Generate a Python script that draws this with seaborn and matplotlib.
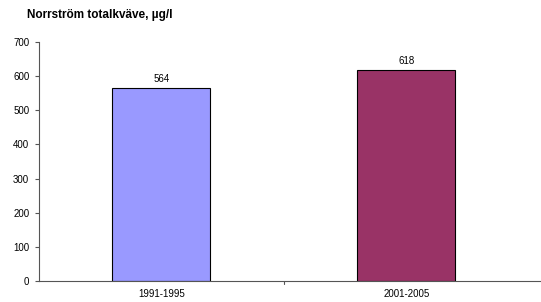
import matplotlib
matplotlib.use('Agg')
import pandas as pd
import matplotlib.pyplot as plt
import seaborn as sns

# Data
periods = ["1991-1995", "2001-2005"]
values = [564, 618]
bar_colors = ["#9999FF", "#993366"]

sns.set_theme(style="white")
plt.rcParams['font.family'] = ['Liberation Sans', 'DejaVu Sans']

df = pd.DataFrame({"Period": periods, "Value": values})

fig = plt.figure(figsize=(5.41, 3.02), dpi=100)
ax = fig.add_axes([39 / 541, 21 / 302, 502 / 541, 239 / 302])

sns.barplot(data=df, x="Period", y="Value", hue="Period", palette=bar_colors,
            saturation=1, width=0.40, edgecolor="black", linewidth=0.8,
            legend=False, ax=ax)

for i, v in enumerate(values):
    ax.text(i, v + 12, f"{v}", ha="center", va="bottom", fontsize=7, color="black")

ax.set_ylim(0, 700)
ax.set_xlim(-0.5, 1.549)
ax.set_yticks(range(0, 701, 100))
ax.set_xticks([0, 1])
ax.set_xticklabels(periods)
ax.set_xlabel("")
ax.set_ylabel("")
ax.tick_params(axis='y', labelsize=7, length=3, width=0.8, color="#555555",
               labelcolor="black", direction="out", left=True, pad=4)
ax.tick_params(axis='x', labelsize=7, length=0, pad=6, labelcolor="black")
# category divider tick
ax.plot([0.5, 0.5], [0, -9], color="#555555", lw=0.8, clip_on=False)

for s in ["top", "right"]:
    ax.spines[s].set_visible(False)
for s in ["left", "bottom"]:
    ax.spines[s].set_color("#555555")
    ax.spines[s].set_linewidth(0.8)

fig.text(27 / 541, 1 - 15 / 302, "Norrström totalkväve, µg/l", fontsize=8.5,
         fontweight="bold", ha="left", va="center", color="black")

plt.savefig("out.png", dpi=100)
plt.close()
